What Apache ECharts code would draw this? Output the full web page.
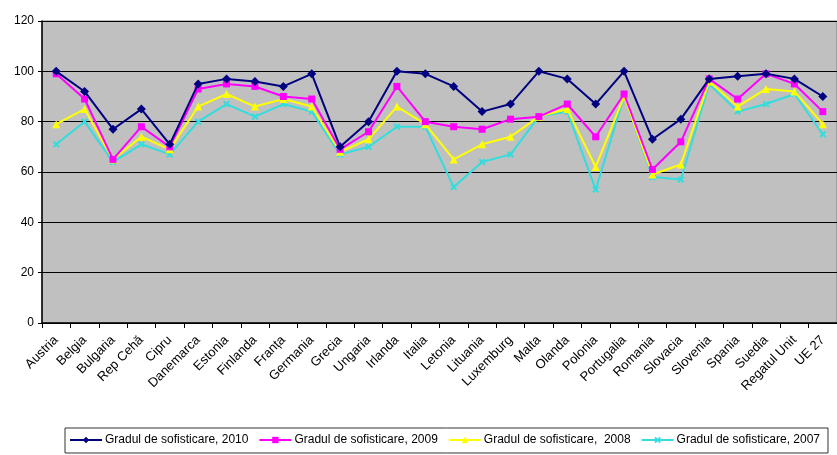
<!DOCTYPE html>
<html lang="ro">
<head>
    <meta charset="UTF-8">
    <title>Gradul de sofisticare</title>
    <script src="https://cdn.jsdelivr.net/npm/echarts@6.0.0/dist/echarts.min.js"></script>
    <style>
        html, body { margin: 0; padding: 0; background: #fff; }
    </style>
</head>
<body>
<div id="chart" style="width: 837px; height: 455px;"></div>

<script>
    // categories and values
    var countries = ['Austria', 'Belgia', 'Bulgaria', 'Rep Cehă', 'Cipru', 'Danemarca', 'Estonia', 'Finlanda',
        'Franța', 'Germania', 'Grecia', 'Ungaria', 'Irlanda', 'Italia', 'Letonia', 'Lituania', 'Luxemburg',
        'Malta', 'Olanda', 'Polonia', 'Portugalia', 'Romania', 'Slovacia', 'Slovenia', 'Spania', 'Suedia',
        'Regatul Unit', 'UE 27'];

    var val2010 = [100, 92, 77, 85, 71, 95, 97, 96, 94, 99, 70, 80, 100, 99, 94, 84, 87, 100, 97, 87, 100, 73, 81, 97, 98, 99, 97, 90];
    var val2009 = [99, 89, 65, 78, 70, 93, 95, 94, 90, 89, 69, 76, 94, 80, 78, 77, 81, 82, 87, 74, 91, 61, 72, 97, 89, 99, 95, 84];
    var val2008 = [79, 85, 65, 74, 69, 86, 91, 86, 89, 86, 68, 73, 86, 79, 65, 71, 74, 82, 85, 62, 90, 59, 63, 96, 86, 93, 92, 79];
    var val2007 = [71, 80, 64, 71, 67, 80, 87, 82, 87, 84, 67, 70, 78, 78, 54, 64, 67, 82, 84, 53, 90, 58, 57, 95, 84, 87, 91, 75];

    var names = ['Gradul de sofisticare, 2010', 'Gradul de sofisticare, 2009',
        'Gradul de sofisticare,  2008', 'Gradul de sofisticare, 2007'];

    // x shaped marker for the 2007 series
    var crossMark = 'path://M0,2 L2,0 L5,3 L8,0 L10,2 L7,5 L10,8 L8,10 L5,7 L2,10 L0,8 L3,5 Z';

    function makeSeries(name, data, color, symbol, size, z) {
        return {
            name: name,
            type: 'line',
            data: data,
            symbol: symbol,
            symbolSize: size,
            z: z,
            itemStyle: { color: color },
            lineStyle: { color: color, width: 2 },
            emphasis: { disabled: true },
            animation: false
        };
    }

    var chart = echarts.init(document.getElementById('chart'));
    chart.setOption({
        textStyle: { fontFamily: 'Liberation Sans, Arial, sans-serif' },
        grid: {
            left: 42, top: 21, width: 805, height: 302,
            show: true,
            backgroundColor: '#c0c0c0',
            borderColor: '#808080',
            borderWidth: 1
        },
        legend: {
            data: names,
            left: 65, top: 428,
            orient: 'horizontal',
            padding: [6, 8, 7, 4],
            itemGap: 10,
            itemWidth: 32,
            itemHeight: 8,
            borderColor: '#333',
            borderWidth: 1,
            borderRadius: 0,
            textStyle: { fontSize: 12, color: '#000', padding: [0, 0, 0, -2] }
        },
        xAxis: {
            type: 'category',
            data: countries,
            boundaryGap: true,
            axisLine: { lineStyle: { color: '#000', width: 1.5 } },
            axisTick: { show: true, interval: 0, length: 5, lineStyle: { color: '#000' } },
            axisLabel: { interval: 0, rotate: 45, fontSize: 13, color: '#000', margin: 15 },
            splitLine: { show: false }
        },
        yAxis: {
            type: 'value',
            min: 0, max: 120, interval: 20,
            axisLine: { show: true, lineStyle: { color: '#000', width: 1.5 } },
            axisTick: { show: true, length: 4, lineStyle: { color: '#000' } },
            axisLabel: { fontSize: 12, color: '#000', margin: 8 },
            splitLine: { lineStyle: { color: '#000', width: 1.2 } }
        },
        series: [
            makeSeries(names[0], val2010, '#000080', 'diamond', 9, 5),
            makeSeries(names[1], val2009, '#ff00ff', 'rect', 7, 4),
            makeSeries(names[2], val2008, '#ffff00', 'triangle', 8, 3),
            makeSeries(names[3], val2007, '#33dddd', crossMark, 7, 2)
        ]
    });
</script>
</body>
</html>
